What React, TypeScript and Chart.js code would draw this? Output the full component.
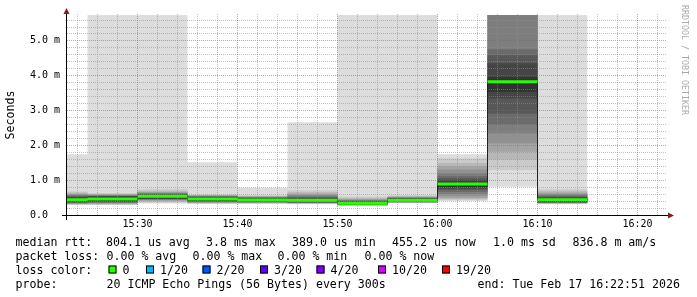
import React, { useEffect, useRef } from 'react';
import { Chart, registerables } from 'chart.js';

Chart.register(...registerables);

// ---------------- data ----------------
// RRD sample timestamps (each sample covers the 300 s before it)
const sampleEnds = ['15:25', '15:30', '15:35', '15:40', '15:45', '15:50', '15:55', '16:00', '16:05', '16:10', '16:15'];
const stepSeconds = 300;
const graphEnd = '16:22:51';
const graphSpanSeconds = 3600;
const xTickLabels = ['15:30', '15:40', '15:50', '16:00', '16:10', '16:20'];
const yTickValues = [0, 1, 2, 3, 4, 5];
const yMaxMs = 5.73;

// median RTT per sample (ms)
const medianMs = [0.44, 0.46, 0.54, 0.46, 0.43, 0.42, 0.34, 0.42, 0.89, 3.82, 0.44];

// 20 sorted ping RTTs per sample (ms), read from the smoke
const pings1525 = [0.29, 0.30, 0.31, 0.32, 0.33, 0.34, 0.35, 0.36, 0.37, 0.39, 0.49, 0.51, 0.53, 0.55, 0.57, 0.59, 0.61, 0.64, 0.67, 1.74];
const pings1530 = [0.29, 0.30, 0.31, 0.32, 0.34, 0.35, 0.36, 0.37, 0.39, 0.41, 0.52, 0.53, 0.54, 0.55, 0.56, 0.57, 0.58, 0.60, 0.63, 5.8];
const pings1535 = [0.33, 0.36, 0.39, 0.41, 0.43, 0.44, 0.45, 0.46, 0.47, 0.48, 0.58, 0.59, 0.60, 0.61, 0.62, 0.64, 0.66, 0.69, 0.74, 5.8];
const pings1540 = [0.32, 0.33, 0.34, 0.35, 0.36, 0.37, 0.38, 0.39, 0.40, 0.41, 0.50, 0.51, 0.52, 0.53, 0.54, 0.55, 0.56, 0.57, 0.59, 1.51];
const pings1545 = [0.32, 0.33, 0.34, 0.35, 0.36, 0.36, 0.37, 0.37, 0.38, 0.39, 0.47, 0.48, 0.49, 0.50, 0.51, 0.52, 0.53, 0.54, 0.56, 0.78];
const pings1550 = [0.31, 0.32, 0.33, 0.34, 0.35, 0.35, 0.36, 0.36, 0.37, 0.37, 0.46, 0.48, 0.50, 0.52, 0.55, 0.58, 0.61, 0.65, 0.70, 2.66];
const pings1555 = [0.26, 0.27, 0.28, 0.28, 0.29, 0.29, 0.30, 0.30, 0.31, 0.31, 0.38, 0.39, 0.40, 0.41, 0.42, 0.44, 0.46, 0.49, 0.52, 5.8];
const pings1600 = [0.34, 0.35, 0.35, 0.36, 0.36, 0.37, 0.37, 0.38, 0.38, 0.39, 0.46, 0.47, 0.48, 0.49, 0.50, 0.51, 0.52, 0.54, 0.56, 5.8];
const pings1605 = [0.40, 0.43, 0.46, 0.49, 0.54, 0.60, 0.66, 0.72, 0.75, 0.80, 0.95, 1.00, 1.05, 1.12, 1.20, 1.30, 1.40, 1.49, 1.62, 1.74];
const pings1610 = [0.81, 1.29, 1.58, 1.81, 2.05, 2.34, 2.58, 2.91, 3.34, 3.53, 3.95, 4.35, 4.58, 4.75, 5.8, 5.8, 5.8, 5.8, 5.8, 5.8];
const pings1615 = [0.31, 0.32, 0.33, 0.34, 0.35, 0.35, 0.36, 0.36, 0.37, 0.38, 0.48, 0.50, 0.52, 0.55, 0.58, 0.61, 0.64, 0.68, 0.74, 5.8];
const pingRows = [pings1525, pings1530, pings1535, pings1540, pings1545, pings1550, pings1555, pings1600, pings1605, pings1610, pings1615];

// legend texts
const rttLegend = ['median rtt:', '804.1 us avg', '3.8 ms max', '389.0 us min', '455.2 us now', '1.0 ms sd', '836.8 m am/s'];
const lossLegend = ['packet loss:', '0.00 % avg', '0.00 % max', '0.00 % min', '0.00 % now'];
const lossColorTitle = 'loss color:';
const lossLabels = ['0', '1/20', '2/20', '3/20', '4/20', '10/20', '19/20'];
const lossColors = ['#26ff00', '#00b8ff', '#0059ff', '#5e00ff', '#7e00ff', '#dd00ff', '#ff0000'];
const probeLegend = ['probe:', '20 ICMP Echo Pings (56 Bytes) every 300s', 'end: Tue Feb 17 16:22:51 2026'];
const yTitle = 'Seconds';
const watermark = 'RRDTOOL / TOBI OETIKER';

// ---------------- style ----------------
const smokeGrays = ['#dddddd', '#cacaca', '#b7b7b7', '#a4a4a4', '#919191', '#7e7e7e', '#6b6b6b', '#585858', '#454545', '#323232'];
const MONO = '"DejaVu Sans Mono", monospace';
const GRID = 'rgba(143,143,143,0.55)';
const MGRID = 'rgba(200,73,73,0.55)';
const ARROW = '#8b1c1c';
const rttX = [15.5, 106, 206, 292, 392, 493, 572.5];
const lossX = [15.5, 106.5, 192.5, 277.5, 364.5];
const boxX = [108.5, 146, 202.5, 260, 316.5, 378, 442];
const probeX = [15.5, 106.5, 477.5];
const lineBase = [245.5, 259.5, 273.5, 287.5];

const toSec = (s: string) => {
  const p = s.split(':').map(Number);
  return p[0] * 3600 + p[1] * 60 + (p[2] || 0);
};
const tEnd = toSec(graphEnd);
const tStart = tEnd - graphSpanSeconds;
const segEnd = sampleEnds.map(toSec);
const segStart = segEnd.map((t) => t - stepSeconds);
const xTickValues = xTickLabels.map(toSec);

function stepPoints(values: number[]) {
  const pts = values.map((v, i) => ({ x: segStart[i], y: v }));
  pts.push({ x: segEnd[segEnd.length - 1], y: values[values.length - 1] });
  return pts;
}

function segmentPoints(values: number[]) {
  const pts: { x: number; y: number | null }[] = [];
  values.forEach((v, i) => {
    pts.push({ x: segStart[i], y: v }, { x: segEnd[i], y: v }, { x: segEnd[i], y: null });
  });
  return pts;
}

function buildDatasets() {
  const ds: any[] = [];
  for (let k = 0; k < 10; k++) {
    const lower = pingRows.map((r) => r[k]);
    const upper = pingRows.map((r) => r[19 - k]);
    ds.push({
      data: stepPoints(lower), stepped: true, borderColor: 'transparent', backgroundColor: 'transparent',
      borderWidth: 0, pointRadius: 0, fill: false, order: 190, clip: 0,
    });
    ds.push({
      data: stepPoints(upper), stepped: true, borderColor: 'transparent', backgroundColor: smokeGrays[k],
      borderWidth: 0, pointRadius: 0, fill: '-1', order: 150 - k, clip: 0, gridAfter: k === 9,
    });
  }
  ds.push({
    data: stepPoints(medianMs), stepped: true, borderColor: '#202020', borderWidth: 1,
    pointRadius: 0, fill: false, order: 2, clip: 0,
  });
  ds.push({
    data: segmentPoints(medianMs), borderColor: lossColors[0], borderWidth: 3, borderCapStyle: 'butt',
    pointRadius: 0, fill: false, spanGaps: false, order: 1, clip: 0,
  });
  return ds;
}

function drawGrid(chart: any) {
  const { ctx, chartArea: a } = chart;
  const xs = chart.scales.x;
  const ys = chart.scales.y;
  ctx.save();
  ctx.lineWidth = 1;
  ctx.setLineDash([1, 1]);
  const nY = Math.floor(yMaxMs / 0.2 + 1e-6);
  for (let i = 1; i <= nY; i++) {
    const py = Math.round(ys.getPixelForValue(i * 0.2)) + 0.5;
    ctx.strokeStyle = i % 5 === 0 ? MGRID : GRID;
    ctx.beginPath();
    ctx.moveTo(a.left + 1, py);
    ctx.lineTo(a.right, py);
    ctx.stroke();
  }
  for (let t = Math.ceil(tStart / 120) * 120; t <= tEnd; t += 120) {
    const px = Math.floor(xs.getPixelForValue(t)) + 0.5;
    ctx.strokeStyle = t % 600 === 0 ? MGRID : GRID;
    ctx.beginPath();
    ctx.moveTo(px, a.bottom);
    ctx.lineTo(px, a.top - 2);
    ctx.stroke();
  }
  ctx.restore();
}

function drawAxes(chart: any) {
  const { ctx, chartArea: a } = chart;
  ctx.save();
  ctx.setLineDash([]);
  ctx.lineWidth = 1;
  ctx.strokeStyle = '#000000';
  const yAx = a.bottom + 0.5;
  const xAx = a.left + 0.5;
  ctx.beginPath();
  ctx.moveTo(a.left - 4, yAx);
  ctx.lineTo(a.right + 3, yAx);
  ctx.moveTo(xAx, a.bottom + 5);
  ctx.lineTo(xAx, a.top - 3);
  ctx.stroke();
  ctx.fillStyle = ARROW;
  ctx.beginPath();
  ctx.moveTo(a.right + 8, yAx);
  ctx.lineTo(a.right + 2, yAx - 3);
  ctx.lineTo(a.right + 2, yAx + 3);
  ctx.closePath();
  ctx.fill();
  ctx.beginPath();
  ctx.moveTo(xAx, a.top - 7);
  ctx.lineTo(xAx - 3, a.top - 1);
  ctx.lineTo(xAx + 3, a.top - 1);
  ctx.closePath();
  ctx.fill();
  ctx.restore();
}

function drawLegend(ctx: CanvasRenderingContext2D) {
  ctx.save();
  ctx.font = `11.6px ${MONO}`;
  ctx.fillStyle = '#000000';
  ctx.textAlign = 'left';
  ctx.textBaseline = 'alphabetic';
  rttLegend.forEach((t, i) => ctx.fillText(t, rttX[i], lineBase[0]));
  lossLegend.forEach((t, i) => ctx.fillText(t, lossX[i], lineBase[1]));
  ctx.fillText(lossColorTitle, 15.5, lineBase[2]);
  lossLabels.forEach((t, i) => {
    const bx = boxX[i];
    const by = lineBase[2] - 8;
    ctx.fillStyle = lossColors[i];
    ctx.fillRect(bx, by, 8, 8);
    ctx.strokeStyle = '#000000';
    ctx.lineWidth = 1;
    ctx.strokeRect(bx + 0.5, by + 0.5, 7, 7);
    ctx.fillStyle = '#000000';
    ctx.fillText(t, bx + 14, lineBase[2]);
  });
  probeLegend.forEach((t, i) => ctx.fillText(t, probeX[i], lineBase[3]));
  ctx.restore();
}

function drawWatermark(ctx: CanvasRenderingContext2D) {
  ctx.save();
  ctx.font = `8.3px ${MONO}`;
  ctx.fillStyle = '#aaaaaa';
  ctx.translate(684.5, 5);
  ctx.rotate(Math.PI / 2);
  ctx.textAlign = 'left';
  ctx.textBaseline = 'middle';
  ctx.fillText(watermark, 0, 0);
  ctx.restore();
}

const rrdPlugin = {
  id: 'rrdLook',
  afterDatasetDraw(chart: any, args: any) {
    if (chart.data.datasets[args.index].gridAfter) drawGrid(chart);
  },
  afterDraw(chart: any) {
    drawAxes(chart);
    drawLegend(chart.ctx);
    drawWatermark(chart.ctx);
  },
};

export default function App() {
  const ref = useRef<HTMLCanvasElement>(null);
  useEffect(() => {
    document.body.style.margin = '0';
    const canvas = ref.current!;
    const chart = new Chart(canvas, {
      type: 'line',
      data: { datasets: buildDatasets() },
      options: {
        responsive: false,
        animation: false,
        devicePixelRatio: 1,
        events: [],
        layout: { padding: { top: 15, right: 31, left: 0, bottom: 0 } },
        plugins: { legend: { display: false }, tooltip: { enabled: false }, title: { display: false } },
        scales: {
          x: {
            type: 'linear', min: tStart, max: tEnd, offset: false,
            grid: { display: false, drawTicks: false, tickLength: 0 },
            border: { display: false },
            ticks: {
              font: { family: MONO, size: 10 }, color: '#000000', padding: 3, maxRotation: 0, autoSkip: false,
              callback: (v: any) => {
                const i = xTickValues.indexOf(Number(v));
                return i >= 0 ? xTickLabels[i] : '';
              },
            },
            afterBuildTicks: (s: any) => { s.ticks = xTickValues.map((v) => ({ value: v })); },
            afterFit: (s: any) => { s.height = 82; },
          },
          y: {
            type: 'linear', min: 0, max: yMaxMs,
            grid: { display: false, drawTicks: false, tickLength: 0 },
            border: { display: false },
            ticks: {
              font: { family: MONO, size: 10 }, color: '#000000', padding: 6,
              callback: (v: any) => (Number(v) === 0 ? '0.0  ' : Number(v).toFixed(1) + ' m'),
            },
            afterBuildTicks: (s: any) => { s.ticks = yTickValues.map((v) => ({ value: v })); },
            afterFit: (s: any) => { s.width = 66; },
            title: {
              display: true, text: yTitle, color: '#000000',
              font: { family: MONO, size: 11.6 }, padding: { top: 4, bottom: 0 },
            },
          },
        },
      } as any,
      plugins: [rrdPlugin],
    });
    return () => chart.destroy();
  }, []);
  return (
    <div style={{ width: 697, height: 297, background: '#ffffff' }}>
      <canvas ref={ref} width={697} height={297} style={{ display: 'block', width: 697, height: 297 }} />
    </div>
  );
}
